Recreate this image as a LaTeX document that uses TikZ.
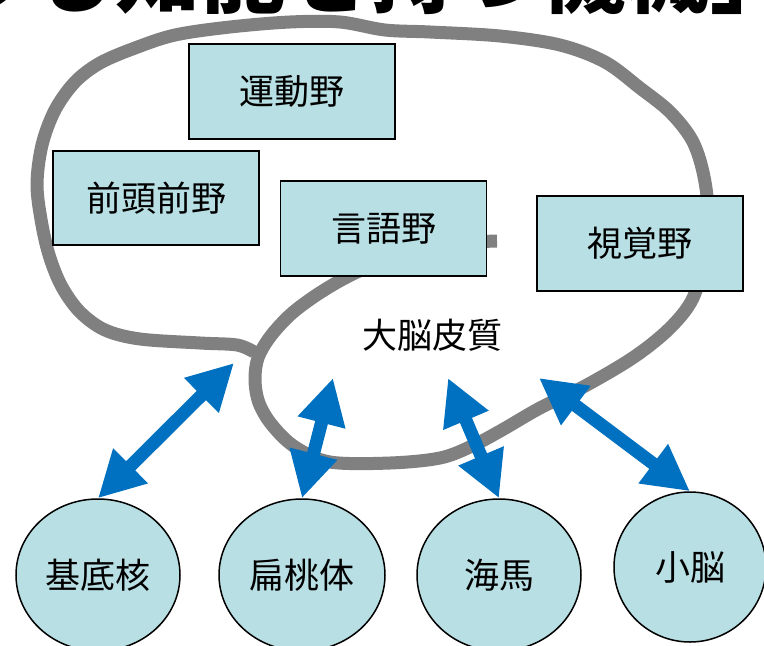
\documentclass[tikz,border=0pt]{standalone}
\usepackage{fontspec}
\newfontfamily\jp{Noto Sans CJK JP}
\usetikzlibrary{arrows.meta,shapes.geometric}
\definecolor{boxfill}{RGB}{184,223,227}
\definecolor{arrowblue}{RGB}{0,112,192}
\definecolor{blobgray}{RGB}{128,128,128}
\begin{document}
\begin{tikzpicture}[x=1pt,y=-1pt,
  area/.style={draw=black, line width=1.5pt, fill=boxfill, minimum width=206pt,
    minimum height=95pt, inner sep=0pt, font=\jp\fontsize{35}{40}\selectfont},
  region/.style={ellipse, draw=black, line width=1.5pt, fill=boxfill, inner sep=0pt,
    font=\jp\fontsize{35}{40}\selectfont},
  link/.style={draw=arrowblue, line width=13pt, >={Triangle[length=46pt,width=46pt]}, <->},
  cortex/.style={draw=blobgray, line width=13pt, line join=round}]
\useasboundingbox (0,0) rectangle (764,646);
\fill[white] (0,0) rectangle (764,646);
\clip (0,0) rectangle (764,646);

% cortex outline
\draw[cortex] plot[smooth, tension=0.55] coordinates {
 (497,241) (460,243) (420,250) (380,262) (345,278) (315,296) (290,315) (270,337)
 (258,358) (255,380) (259,403) (272,425) (295,447) (330,462) (390,463) (440,458)
 (472,446) (502,430) (540,408) (585,386) (634,357) (670,328) (693,298) (705,255)
 (708,210) (703,172) (692,140) (670,112) (640,88) (605,62) (560,45) (500,36)
 (430,32) (385,30) (340,22) (290,22) (230,27) (175,35) (135,48) (100,63) (75,82)
 (55,110) (42,145) (37,185) (42,225) (50,258) (62,287) (80,312) (105,330)
 (140,339) (200,343) (237,345) (254,352)};

% cortical areas
\node[area, minimum height=95pt] (undo)    at (292,91.5)  {運動野};
\node[area, minimum height=94pt] (zento)   at (156,198)   {前頭前野};
\node[area] (gengo)   at (383.5,228.5) {言語野};
\node[area] (shikaku) at (640,243.5)   {視覚野};
\node[font=\jp\fontsize{35}{40}\selectfont, inner sep=0pt] (daino) at (432,335) {大脳皮質};

% subcortical structures
\node[region, minimum width=164pt, minimum height=152pt] (kitei) at (98,575)  {基底核};
\node[region, minimum width=166pt, minimum height=152pt] (hento) at (302,575) {扁桃体};
\node[region, minimum width=164pt, minimum height=152pt] (kaiba) at (499,575) {海馬};
\node[region, minimum width=152pt, minimum height=150pt] (shono) at (690,567) {小脳};

% free arrow ends inside the cortex
\coordinate (e1) at (234,363);
\coordinate (e2) at (333,378);
\coordinate (e3) at (448,378);
\coordinate (e4) at (539,378);

\draw[link] (e1) -- (kitei.north);
\draw[link] (e2) -- (hento.north);
\draw[link] (e3) -- (kaiba.north);
\draw[link] (e4) -- (shono.north);

% cropped title
\node[anchor=base west, inner sep=0pt, font=\jp\bfseries\fontsize{85}{90}\selectfont]
  (title) at (-55,6) {うる知能を持つ機械」};
\end{tikzpicture}
\end{document}
